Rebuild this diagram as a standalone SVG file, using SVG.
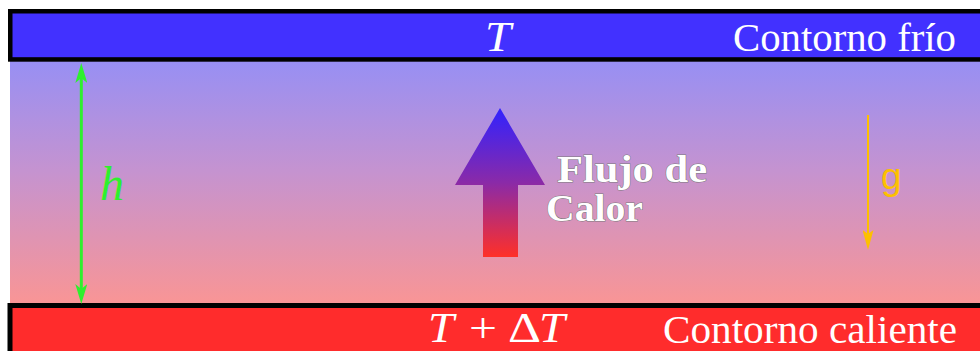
<svg xmlns="http://www.w3.org/2000/svg" width="980" height="351" viewBox="0 0 980 351">
  <style>
    .serif { font-family: "Liberation Serif", "Times New Roman", serif; }
    .white { fill: #ffffff; }
    .ital { font-style: italic; }
    .flux { font-family: "Liberation Serif", "Times New Roman", serif; font-weight: bold; font-size: 37px; fill: #ffffff; stroke: #7a7a7a; stroke-width: 1; paint-order: stroke fill; }
  </style>
  <defs>
    <linearGradient id="bg" x1="0" y1="0" x2="0" y2="1">
      <stop offset="0" stop-color="#978ff4"/>
      <stop offset="0.45" stop-color="#c593d0"/>
      <stop offset="1" stop-color="#fa9594"/>
    </linearGradient>
    <linearGradient id="heat" x1="0" y1="108" x2="0" y2="257" gradientUnits="userSpaceOnUse">
      <stop offset="0" stop-color="#3122ff"/>
      <stop offset="0.5" stop-color="#8a2aa8"/>
      <stop offset="1" stop-color="#ff3028"/>
    </linearGradient>
    <marker id="greenHead" viewBox="0 0 20 12" refX="5" refY="6" markerWidth="20" markerHeight="12" markerUnits="userSpaceOnUse" orient="auto-start-reverse">
      <path d="M0,0 L20,6 L0,12 L5,6 Z" fill="#2ef02e"/>
    </marker>
    <marker id="gHead" viewBox="0 0 20 11" refX="4" refY="5.5" markerWidth="20" markerHeight="11" markerUnits="userSpaceOnUse" orient="auto">
      <path d="M0,0 L20,5.5 L0,11 L4,5.5 Z" fill="#fdc000"/>
    </marker>
  </defs>

  <rect id="fluid" x="10" y="60" width="975" height="246" fill="url(#bg)"/>

  <g id="cold-boundary">
    <rect x="10.25" y="11.25" width="975" height="48.2" fill="#4231ff" stroke="#000000" stroke-width="4.5"/>
    <text x="485" y="51" class="serif white ital" font-size="42" textLength="26" lengthAdjust="spacingAndGlyphs">T</text>
    <text x="733" y="51" class="serif white" font-size="41" textLength="223" lengthAdjust="spacingAndGlyphs">Contorno frío</text>
  </g>

  <g id="hot-boundary">
    <rect x="10" y="305.5" width="975" height="50" fill="#ff2c2c" stroke="#000000" stroke-width="5"/>
    <text x="428" y="342" class="serif white ital" font-size="42" textLength="26" lengthAdjust="spacingAndGlyphs">T</text>
    <text x="469" y="342" class="serif white" font-size="42" textLength="28" lengthAdjust="spacingAndGlyphs">+</text>
    <text x="508" y="342" class="serif white" font-size="42" textLength="33" lengthAdjust="spacingAndGlyphs">Δ</text>
    <text x="539" y="342" class="serif white ital" font-size="42" textLength="26" lengthAdjust="spacingAndGlyphs">T</text>
    <text x="663" y="343" class="serif white" font-size="41" textLength="294" lengthAdjust="spacingAndGlyphs">Contorno caliente</text>
  </g>

  <g id="heat-flux">
    <path d="M500,108 L545,185 L518,185 L518,257 L483,257 L483,185 L455,185 Z" fill="url(#heat)"/>
    <text x="557" y="182" class="flux" textLength="150" lengthAdjust="spacingAndGlyphs">Flujo de</text>
    <text x="546" y="221" class="flux" textLength="97" lengthAdjust="spacingAndGlyphs">Calor</text>
  </g>

  <g id="height-label">
    <text x="100" y="200" class="serif ital" font-size="48" fill="#2ef02e">h</text>
  </g>

  <g id="gravity-label">
    <text x="881" y="189" font-family="Liberation Sans, Arial, sans-serif" font-size="37" fill="#fdc000">g</text>
  </g>

  <g id="connectors">
    <line x1="81.3" y1="78" x2="81.3" y2="289" stroke="#2ef02e" stroke-width="3" marker-start="url(#greenHead)" marker-end="url(#greenHead)"/>
    <line x1="868" y1="115" x2="868" y2="234" stroke="#fdc000" stroke-width="2" marker-end="url(#gHead)"/>
  </g>
</svg>
